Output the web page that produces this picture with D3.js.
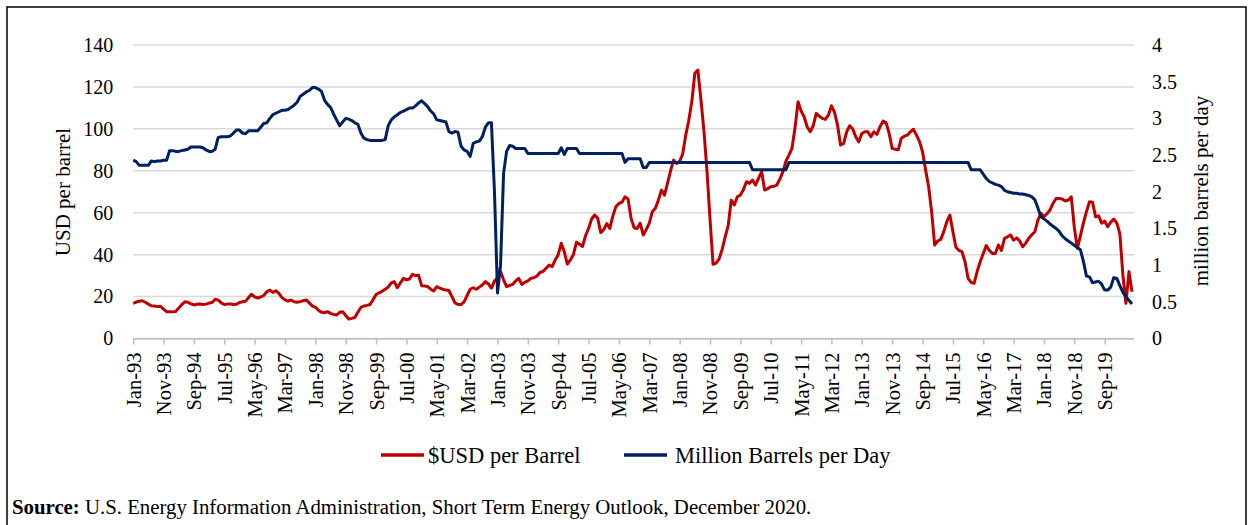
<!DOCTYPE html>
<html><head><meta charset="utf-8">
<script src="https://cdn.jsdelivr.net/npm/d3@7"></script>
<style>
body{margin:0;background:#fff}
svg{display:block}
text{font-family:"Liberation Serif","Times New Roman",serif;fill:#000}
</style>
</head><body>
<svg id="chart" width="1253" height="525"></svg>
<script>
// Monthly series, Jan-1993 .. Jun-2020 (one row per year)
const priceUSD = [
  16.8, 17.4, 17.8, 18.0, 17.3, 16.4, 15.6, 15.5, 15.2, 15.4, 14.0, 12.8,
  12.8, 12.7, 12.9, 14.5, 16.2, 17.5, 17.3, 16.5, 16.0, 16.3, 16.5, 16.2,
  16.4, 16.9, 17.2, 18.7, 18.3, 17.0, 16.2, 16.4, 16.5, 16.2, 16.3, 17.2,
  17.5, 17.8, 19.5, 21.1, 19.8, 19.3, 19.8, 20.5, 22.3, 23.1, 22.0, 22.8,
  21.5, 19.5, 18.4, 17.8, 18.4, 17.5, 17.3, 17.6, 18.0, 18.4, 17.0, 15.5,
  15.0, 13.5, 12.5, 12.3, 12.8, 12.0, 11.5, 11.2, 12.5, 12.8, 11.0, 9.3,
  9.6, 10.0, 12.5, 14.8, 15.5, 15.8, 16.2, 18.5, 21.0, 21.8, 22.5, 23.5,
  24.5, 26.5, 27.1, 24.2, 26.5, 28.7, 28.0, 28.4, 30.6, 30.0, 30.2, 25.2,
  25.0, 24.8, 23.5, 22.7, 24.7, 24.0, 23.5, 23.1, 22.9, 20.0, 17.0, 16.2,
  16.2, 17.5, 20.5, 23.5, 24.2, 23.5, 24.5, 25.5, 27.1, 26.0, 24.0, 27.4,
  29.0, 31.9, 28.0, 24.7, 25.3, 25.8, 27.5, 28.7, 25.8, 26.8, 27.5, 28.7,
  29.0, 29.8, 31.5, 32.0, 33.5, 35.0, 34.3, 37.5, 40.0, 45.4, 41.4, 35.5,
  37.5, 40.0, 45.9, 45.0, 43.9, 49.0, 52.5, 57.0, 58.9, 57.5, 50.5, 52.0,
  54.8, 52.5, 58.5, 62.9, 64.4, 65.0, 67.6, 66.5, 57.3, 52.8, 52.5, 55.0,
  49.4, 52.0, 55.0, 60.5, 62.1, 66.0, 70.8, 68.4, 74.0, 80.0, 85.1, 83.5,
  84.5, 88.0, 97.0, 104.0, 112.9, 126.5, 128.0, 114.0, 99.0, 80.0, 57.0, 35.4,
  36.0, 38.0, 42.5, 48.5, 54.0, 66.0, 63.7, 67.6, 68.4, 71.0, 74.8, 74.0,
  75.6, 73.2, 76.5, 79.5, 70.8, 71.5, 72.4, 72.6, 73.2, 76.0, 79.5, 84.6,
  87.5, 90.7, 100.5, 112.9, 108.5, 105.8, 101.0, 98.6, 101.5, 107.4, 106.0, 105.0,
  104.5, 106.5, 111.0, 108.0, 101.8, 92.3, 93.0, 98.5, 101.5, 100.0, 96.2, 93.8,
  97.8, 98.6, 98.6, 96.2, 98.6, 97.4, 101.0, 103.7, 103.0, 97.8, 90.7, 90.3,
  90.0, 95.5, 96.5, 97.0, 98.6, 99.8, 97.0, 94.0, 89.1, 80.5, 72.5, 60.5,
  44.6, 46.5, 47.3, 51.0, 55.7, 58.9, 51.0, 43.5, 42.0, 41.4, 36.6, 28.7,
  26.8, 26.3, 32.0, 36.6, 40.5, 44.3, 42.0, 40.6, 40.6, 44.6, 42.0, 47.8,
  48.5, 49.4, 46.9, 48.0, 46.5, 43.8, 45.5, 47.8, 49.5, 50.9, 56.5, 59.7,
  58.1, 59.5, 61.3, 64.5, 66.8, 66.8, 66.5, 65.6, 66.0, 67.6, 53.0, 43.0,
  49.0, 55.0, 60.5, 65.2, 65.0, 58.1, 58.5, 55.0, 56.0, 53.3, 55.5, 57.0,
  55.0, 50.0, 30.3, 16.8, 31.9, 22.3
];
const productionMbd = [
  2.43, 2.41, 2.36, 2.36, 2.36, 2.36, 2.42, 2.41, 2.42, 2.42, 2.43, 2.43,
  2.56, 2.56, 2.55, 2.55, 2.56, 2.57, 2.58, 2.61, 2.61, 2.61, 2.61, 2.60,
  2.57, 2.55, 2.55, 2.58, 2.74, 2.75, 2.75, 2.75, 2.76, 2.80, 2.84, 2.84,
  2.80, 2.79, 2.83, 2.83, 2.83, 2.83, 2.88, 2.93, 2.94, 3.00, 3.05, 3.07,
  3.09, 3.11, 3.11, 3.12, 3.15, 3.18, 3.22, 3.30, 3.33, 3.36, 3.38, 3.42,
  3.42, 3.40, 3.37, 3.25, 3.19, 3.15, 3.06, 2.98, 2.90, 2.95, 3.00, 2.99,
  2.97, 2.94, 2.92, 2.80, 2.73, 2.71, 2.70, 2.70, 2.70, 2.70, 2.70, 2.71,
  2.90, 2.98, 3.02, 3.05, 3.08, 3.10, 3.12, 3.14, 3.14, 3.17, 3.21, 3.24,
  3.20, 3.16, 3.10, 3.06, 2.98, 2.97, 2.96, 2.95, 2.82, 2.80, 2.82, 2.81,
  2.62, 2.57, 2.55, 2.48, 2.66, 2.68, 2.69, 2.75, 2.88, 2.94, 2.94, 2.00,
  0.62, 1.00, 2.25, 2.55, 2.63, 2.62, 2.59, 2.59, 2.59, 2.59, 2.52, 2.52,
  2.52, 2.52, 2.52, 2.52, 2.52, 2.52, 2.52, 2.52, 2.52, 2.60, 2.51, 2.59,
  2.59, 2.59, 2.59, 2.52, 2.52, 2.52, 2.52, 2.52, 2.52, 2.52, 2.52, 2.52,
  2.52, 2.52, 2.52, 2.52, 2.52, 2.52, 2.40, 2.45, 2.45, 2.45, 2.45, 2.45,
  2.33, 2.33, 2.40, 2.40, 2.40, 2.40, 2.40, 2.40, 2.40, 2.40, 2.40, 2.40,
  2.40, 2.40, 2.40, 2.40, 2.40, 2.40, 2.40, 2.40, 2.40, 2.40, 2.40, 2.40,
  2.40, 2.40, 2.40, 2.40, 2.40, 2.40, 2.40, 2.40, 2.40, 2.40, 2.40, 2.40,
  2.30, 2.30, 2.30, 2.30, 2.30, 2.30, 2.30, 2.30, 2.30, 2.30, 2.30, 2.30,
  2.40, 2.40, 2.40, 2.40, 2.40, 2.40, 2.40, 2.40, 2.40, 2.40, 2.40, 2.40,
  2.40, 2.40, 2.40, 2.40, 2.40, 2.40, 2.40, 2.40, 2.40, 2.40, 2.40, 2.40,
  2.40, 2.40, 2.40, 2.40, 2.40, 2.40, 2.40, 2.40, 2.40, 2.40, 2.40, 2.40,
  2.40, 2.40, 2.40, 2.40, 2.40, 2.40, 2.40, 2.40, 2.40, 2.40, 2.40, 2.40,
  2.40, 2.40, 2.40, 2.40, 2.40, 2.40, 2.40, 2.40, 2.40, 2.40, 2.40, 2.40,
  2.30, 2.30, 2.30, 2.30, 2.24, 2.18, 2.14, 2.12, 2.10, 2.09, 2.07, 2.02,
  2.00, 1.99, 1.98, 1.98, 1.97, 1.97, 1.96, 1.95, 1.93, 1.89, 1.78, 1.66,
  1.63, 1.60, 1.56, 1.53, 1.50, 1.46, 1.40, 1.36, 1.33, 1.30, 1.27, 1.24,
  1.21, 1.05, 0.85, 0.84, 0.76, 0.77, 0.78, 0.74, 0.66, 0.66, 0.70, 0.83,
  0.82, 0.72, 0.63, 0.57, 0.52, 0.47
];
// Category tick labels, one every 10 months starting Jan-93
const tickLabels = ["Jan-93","Nov-93","Sep-94","Jul-95","May-96","Mar-97","Jan-98","Nov-98","Sep-99","Jul-00",
  "May-01","Mar-02","Jan-03","Nov-03","Sep-04","Jul-05","May-06","Mar-07","Jan-08","Nov-08","Sep-09","Jul-10",
  "May-11","Mar-12","Jan-13","Nov-13","Sep-14","Jul-15","May-16","Mar-17","Jan-18","Nov-18","Sep-19"];
const tickStep = 10;
const leftTicks = [0, 20, 40, 60, 80, 100, 120, 140];
const rightTicks = [0, 0.5, 1, 1.5, 2, 2.5, 3, 3.5, 4];
const seriesNames = ["$USD per Barrel", "Million Barrels per Day"];
const seriesColors = ["#C00000", "#002060"];
const leftTitle = "USD per barrel";
const rightTitle = "million barrels per day";
const sourceBold = "Source:";
const sourceText = " U.S. Energy Information Administration, Short Term Energy Outlook, December 2020.";

const svg = d3.select("#chart");
const plot = {left: 133.2, right: 1132, top: 45, bottom: 338.5};
const n = priceUSD.length;

const x = d3.scaleLinear().domain([0, n - 1]).range([plot.left, plot.right]);
const yL = d3.scaleLinear().domain([0, 140]).range([plot.bottom, plot.top]);
const yR = d3.scaleLinear().domain([0, 4]).range([plot.bottom, plot.top]);

// outer frame
svg.append("rect").attr("x", 7).attr("y", 7).attr("width", 1239).attr("height", 530)
  .attr("fill", "none").attr("stroke", "#000").attr("stroke-width", 1.5);

// gridlines
svg.append("g").selectAll("line").data(leftTicks).join("line")
  .attr("x1", plot.left).attr("x2", plot.right + 2)
  .attr("y1", d => yL(d)).attr("y2", d => yL(d))
  .attr("stroke", "#d9d9d9").attr("stroke-width", 1.5);

// left axis labels
const gl = svg.append("g").attr("transform", `translate(${plot.left},0)`)
  .call(d3.axisLeft(yL).tickValues(leftTicks).tickSize(0).tickPadding(20).tickFormat(d3.format("d")));
gl.select(".domain").remove();
gl.selectAll("text").style("font-size", "20px").style("font-family", '"Liberation Serif",serif');

// right axis labels
const gr = svg.append("g").attr("transform", `translate(${plot.right},0)`)
  .call(d3.axisRight(yR).tickValues(rightTicks).tickSize(0).tickPadding(20).tickFormat(d => d));
gr.select(".domain").remove();
gr.selectAll("text").style("font-size", "20px").style("font-family", '"Liberation Serif",serif');

// bottom axis
const tickIdx = tickLabels.map((_, i) => i * tickStep);
const gb = svg.append("g").attr("transform", `translate(0,${plot.bottom})`)
  .call(d3.axisBottom(x).tickValues(tickIdx).tickSize(6).tickFormat((d, i) => tickLabels[i]));
gb.select(".domain").attr("d", `M${plot.left},0.5H${plot.right + 2}`).attr("stroke", "#bfbfbf").attr("stroke-width", 1.5);
gb.selectAll(".tick line").attr("stroke", "#bfbfbf").attr("stroke-width", 1.5);
gb.selectAll(".tick text")
  .style("font-size", "20.5px").style("font-family", '"Liberation Serif",serif')
  .attr("transform", "rotate(-90)")
  .attr("text-anchor", "end")
  .attr("x", -14).attr("y", 0).attr("dy", "0.34em");

// axis titles
svg.append("text").attr("transform", "translate(70,192) rotate(-90)")
  .attr("text-anchor", "middle").style("font-size", "21px").text(leftTitle);
svg.append("text").attr("transform", "translate(1208,191) rotate(-90)")
  .attr("text-anchor", "middle").style("font-size", "21px").text(rightTitle);

// lines
const linePrice = d3.line().x((d, i) => x(i)).y(d => yL(d));
const lineProd = d3.line().x((d, i) => x(i)).y(d => yR(d));
svg.append("path").datum(priceUSD).attr("d", linePrice)
  .attr("fill", "none").attr("stroke", seriesColors[0]).attr("stroke-width", 3).attr("stroke-linejoin", "round");
svg.append("path").datum(productionMbd).attr("d", lineProd)
  .attr("fill", "none").attr("stroke", seriesColors[1]).attr("stroke-width", 3).attr("stroke-linejoin", "round");

// legend
const legendItems = [{x: 381, tx: 428}, {x: 624, tx: 675}];
legendItems.forEach((it, i) => {
  svg.append("line").attr("x1", it.x).attr("x2", it.x + 43).attr("y1", 455).attr("y2", 455)
    .attr("stroke", seriesColors[i]).attr("stroke-width", 3.5);
  svg.append("text").attr("x", it.tx).attr("y", 455).attr("dy", "0.34em")
    .style("font-size", "22.5px").text(seriesNames[i]);
});

// source
const src = svg.append("text").attr("x", 12).attr("y", 514).style("font-size", "20.8px");
src.append("tspan").attr("font-weight", "bold").text(sourceBold);
src.append("tspan").text(sourceText);
</script>
</body></html>
